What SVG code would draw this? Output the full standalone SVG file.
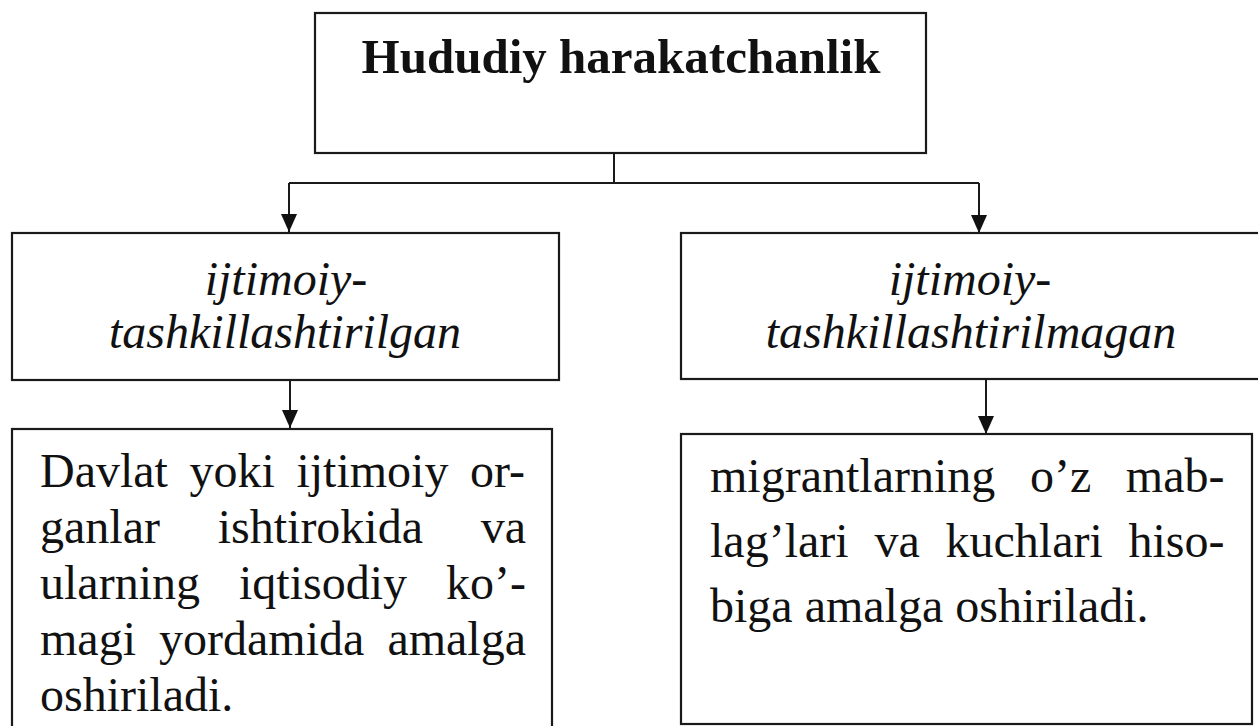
<svg xmlns="http://www.w3.org/2000/svg" width="1258" height="726" viewBox="0 0 1258 726">
<style>
.box{fill:#fff;stroke:#1a1a1a;stroke-width:2.2}
.conn{fill:none;stroke:#1a1a1a;stroke-width:2}
.t{font-family:"Liberation Serif","Times New Roman",serif;font-size:48px;fill:#111}
.title{font-weight:bold;text-anchor:middle;font-size:49px}
.it{font-style:italic;text-anchor:middle}
</style>
<defs>
<marker id="ah" markerUnits="userSpaceOnUse" viewBox="0 0 18 16" markerWidth="18" markerHeight="16" refX="18" refY="8" orient="auto">
<path d="M0,0 L18,8 L0,16 z" fill="#111"/>
</marker>
</defs>
<rect width="1258" height="726" fill="#fff"/>
<g id="connectors">
<path class="conn" d="M614,153 V183 M289,183 H979"/>
<path class="conn" d="M289,183 V232" marker-end="url(#ah)"/>
<path class="conn" d="M979,183 V233" marker-end="url(#ah)"/>
<path class="conn" d="M290,381 V428" marker-end="url(#ah)"/>
<path class="conn" d="M986,379 V434" marker-end="url(#ah)"/>
</g>
<g id="node-root">
<rect class="box" x="315" y="13" width="611" height="140"/>
<text class="t title" x="621" y="73">Hududiy harakatchanlik</text>
</g>
<g id="node-organized">
<rect class="box" x="12" y="233" width="547" height="147"/>
<text class="t it" x="286" y="295">ijtimoiy-</text>
<text class="t it" x="285" y="348">tashkillashtirilgan</text>
</g>
<g id="node-unorganized">
<rect class="box" x="681" y="233" width="590" height="146"/>
<text class="t it" x="970" y="295">ijtimoiy-</text>
<text class="t it" x="971" y="348">tashkillashtirilmagan</text>
</g>
<g id="node-organized-desc">
<rect class="box" x="12" y="429" width="540" height="310"/>
<text class="t" y="487"><tspan x="40">Davlat</tspan><tspan x="189.5">yoki</tspan><tspan x="296.4">ijtimoiy</tspan><tspan x="470">or-</tspan></text>
<text class="t" y="543"><tspan x="40">ganlar</tspan><tspan x="217.7">ishtirokida</tspan><tspan x="480.7">va</tspan></text>
<text class="t" y="599"><tspan x="40">ularning</tspan><tspan x="239">iqtisodiy</tspan><tspan x="446">ko’-</tspan></text>
<text class="t" y="655"><tspan x="40">magi</tspan><tspan x="159">yordamida</tspan><tspan x="387.4">amalga</tspan></text>
<text class="t" x="40" y="711">oshiriladi.</text>
</g>
<g id="node-unorganized-desc">
<rect class="box" x="681" y="434" width="571" height="290"/>
<text class="t" y="492"><tspan x="710">migrantlarning</tspan><tspan x="1029.9">o’z</tspan><tspan x="1125.8">mab-</tspan></text>
<text class="t" y="557"><tspan x="710">lag’lari</tspan><tspan x="874.4">va</tspan><tspan x="945.5">kuchlari</tspan><tspan x="1128.5">hiso-</tspan></text>
<text class="t" x="710" y="622">biga amalga oshiriladi.</text>
</g>
</svg>
